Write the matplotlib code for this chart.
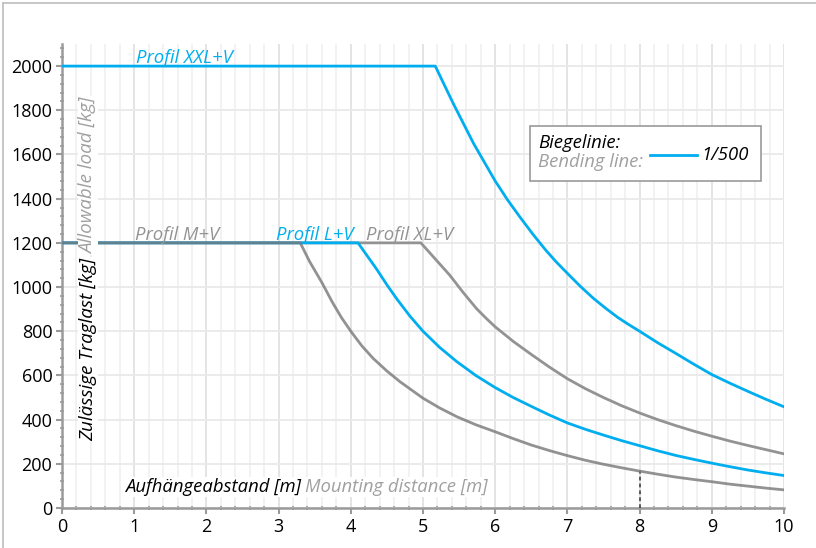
import matplotlib.pyplot as plt
from matplotlib.lines import Line2D
from matplotlib.patches import Rectangle
from matplotlib.ticker import MultipleLocator

# Traglast-Kurven (Abstand in m, Last in kg)
xxl_x = [0, 5.17, 5.42, 5.7, 6.0, 6.17, 6.34, 6.52, 6.7, 6.85, 7.0, 7.18, 7.36, 7.53,
         7.7, 7.85, 8.0, 8.25, 8.5, 8.75, 9.0, 9.25, 9.5, 9.75, 10]
xxl_y = [2000, 2000, 1830, 1650, 1480, 1395, 1318, 1240, 1167, 1112, 1062, 1003, 949, 904,
         862, 830, 800, 748, 700, 651, 604, 565, 528, 492, 458]

l_x = [0, 4.1, 4.23, 4.36, 4.5, 4.64, 4.82, 5.0, 5.23, 5.47, 5.73, 6.0, 6.25, 6.5, 6.75,
       7.0, 7.25, 7.5, 7.75, 8.0, 8.25, 8.5, 8.75, 9.0, 9.25, 9.5, 9.75, 10]
l_y = [1200, 1200, 1140, 1080, 1010, 945, 868, 800, 727, 662, 600, 545, 500, 460, 421,
       385, 356, 330, 305, 282, 259, 238, 220, 203, 187, 172, 159, 147]

xl_x = [0, 4.97, 5.17, 5.37, 5.55, 5.74, 5.87, 6.0, 6.25, 6.5, 6.75, 7.0, 7.25, 7.5,
        7.75, 8.0, 8.25, 8.5, 8.75, 9.0, 9.25, 9.5, 9.75, 10]
xl_y = [1200, 1200, 1127, 1054, 978, 903, 860, 820, 754, 695, 638, 585, 540, 500,
        463, 430, 400, 373, 348, 325, 303, 283, 264, 245]

m_x = [0, 3.3, 3.43, 3.6, 3.74, 3.87, 4.0, 4.15, 4.31, 4.5, 4.68, 4.85, 5.0, 5.23, 5.47,
       5.73, 6.0, 6.25, 6.5, 6.75, 7.0, 7.25, 7.5, 7.75, 8.0, 8.25, 8.5, 8.75, 9.0, 9.25,
       9.5, 9.75, 10]
m_y = [1200, 1200, 1115, 1020, 934, 862, 800, 735, 677, 620, 572, 532, 497, 453, 413,
       377, 345, 314, 285, 260, 237, 216, 198, 182, 167, 153, 140, 129, 119, 108,
       99, 90, 82]

marker_x = 8.0
marker_y = 167

blau = "#00aeef"
grau = "#939393"
hellgrau = "#a0a0a0"

plt.rcParams['font.family'] = ['Open Sans', 'DejaVu Sans']

fig = plt.figure(figsize=(8.16, 5.48), dpi=100)
ax = fig.add_axes([62 / 816, 40 / 548, 722 / 816, 464 / 548])

# Rahmen links und oben
fig.add_artist(Line2D([3 / 816, 3 / 816], [0, 1 - 3 / 548], color="#bdbdbd", lw=1.2))
fig.add_artist(Line2D([3 / 816, 1], [1 - 3 / 548, 1 - 3 / 548], color="#bdbdbd", lw=1.2))

ax.set_xlim(0, 10)
ax.set_ylim(0, 2100)

ax.xaxis.set_major_locator(MultipleLocator(1))
ax.xaxis.set_minor_locator(MultipleLocator(0.2))
ax.yaxis.set_major_locator(MultipleLocator(200))
ax.yaxis.set_minor_locator(MultipleLocator(40))

ax.grid(True, which="minor", axis="x", color="#efefef", lw=1.1, zorder=0)
ax.grid(True, which="major", axis="x", color="#e2e2e2", lw=1.3, zorder=0)
ax.grid(True, which="major", axis="y", color="#e9e9e9", lw=1.3, zorder=0)
ax.set_axisbelow(True)

for s in ["top", "right"]:
    ax.spines[s].set_visible(False)
for s in ["left", "bottom"]:
    ax.spines[s].set_color("#9a9a9a")
    ax.spines[s].set_linewidth(1.8)

ax.tick_params(which="major", length=4, width=1.5, color="#9a9a9a",
               labelsize=13, labelcolor="black", pad=3)
ax.tick_params(which="minor", length=2.5, width=1.2, color="#9a9a9a", direction="inout")

# Kurven
ax.plot(xl_x, xl_y, color=grau, lw=2.0, zorder=3)
ax.plot(l_x, l_y, color=blau, lw=2.0, zorder=4)
ax.plot(m_x, m_y, color="#777777", alpha=0.8, lw=2.0, zorder=5)
ax.plot(xxl_x, xxl_y, color=blau, lw=2.0, zorder=4)

ax.plot([marker_x, marker_x], [0, marker_y], color="#333333", lw=1.1,
        ls=(0, (2.5, 2)), zorder=3)

fs = 13.3

# Beschriftungen der Profile
ax.text(1.02, 2015, "Profil XXL+V", color=blau, style="italic", fontsize=fs, va="baseline", zorder=6)
ax.text(1.01, 1215, "Profil M+V", color=grau, style="italic", fontsize=fs, va="baseline", zorder=6)
ax.text(2.96, 1215, "Profil L+V", color=blau, style="italic", fontsize=fs, va="baseline", zorder=6)
ax.text(4.21, 1215, "Profil XL+V", color=grau, style="italic", fontsize=fs, va="baseline", zorder=6)

# Achsentitel
wbox = dict(facecolor="white", edgecolor="none", pad=1)
t1 = ax.text(0.36, 303, "Zulässige Traglast [kg]", rotation=90, color="black", style="italic",
             fontsize=13.6, ha="center", va="bottom", bbox=wbox, zorder=6)
ax.annotate("Allowable load [kg]", xy=(0.5, 1), xycoords=t1, xytext=(0, 3),
            textcoords="offset points", rotation=90, color=hellgrau, style="italic",
            fontsize=13.6, ha="center", va="bottom", bbox=wbox, zorder=6)
t2 = ax.text(0.87, 95, "Aufhängeabstand [m]", color="black", style="italic",
             fontsize=fs, ha="left", va="center", bbox=wbox, zorder=6)
ax.annotate("Mounting distance [m]", xy=(1, 0.5), xycoords=t2, xytext=(3, 0),
            textcoords="offset points", color=hellgrau, style="italic",
            fontsize=fs, ha="left", va="center", bbox=wbox, zorder=6)

# Legende
ax.add_patch(Rectangle((6.48, 1480), 3.2, 249, facecolor="white", edgecolor="#9a9a9a",
                       lw=1.2, zorder=7))
ax.text(6.59, 1652, "Biegelinie:", color="black", style="italic", fontsize=fs,
        va="center", zorder=8)
ax.text(6.59, 1566, "Bending line:", color=hellgrau, style="italic", fontsize=fs,
        va="center", zorder=8)
ax.plot([8.14, 8.8], [1597, 1597], color=blau, lw=2.0, zorder=8)
ax.text(8.86, 1597, "1/500", color="black", style="italic", fontsize=fs,
        va="center", zorder=8)

fig.savefig("out.png", dpi=100)
